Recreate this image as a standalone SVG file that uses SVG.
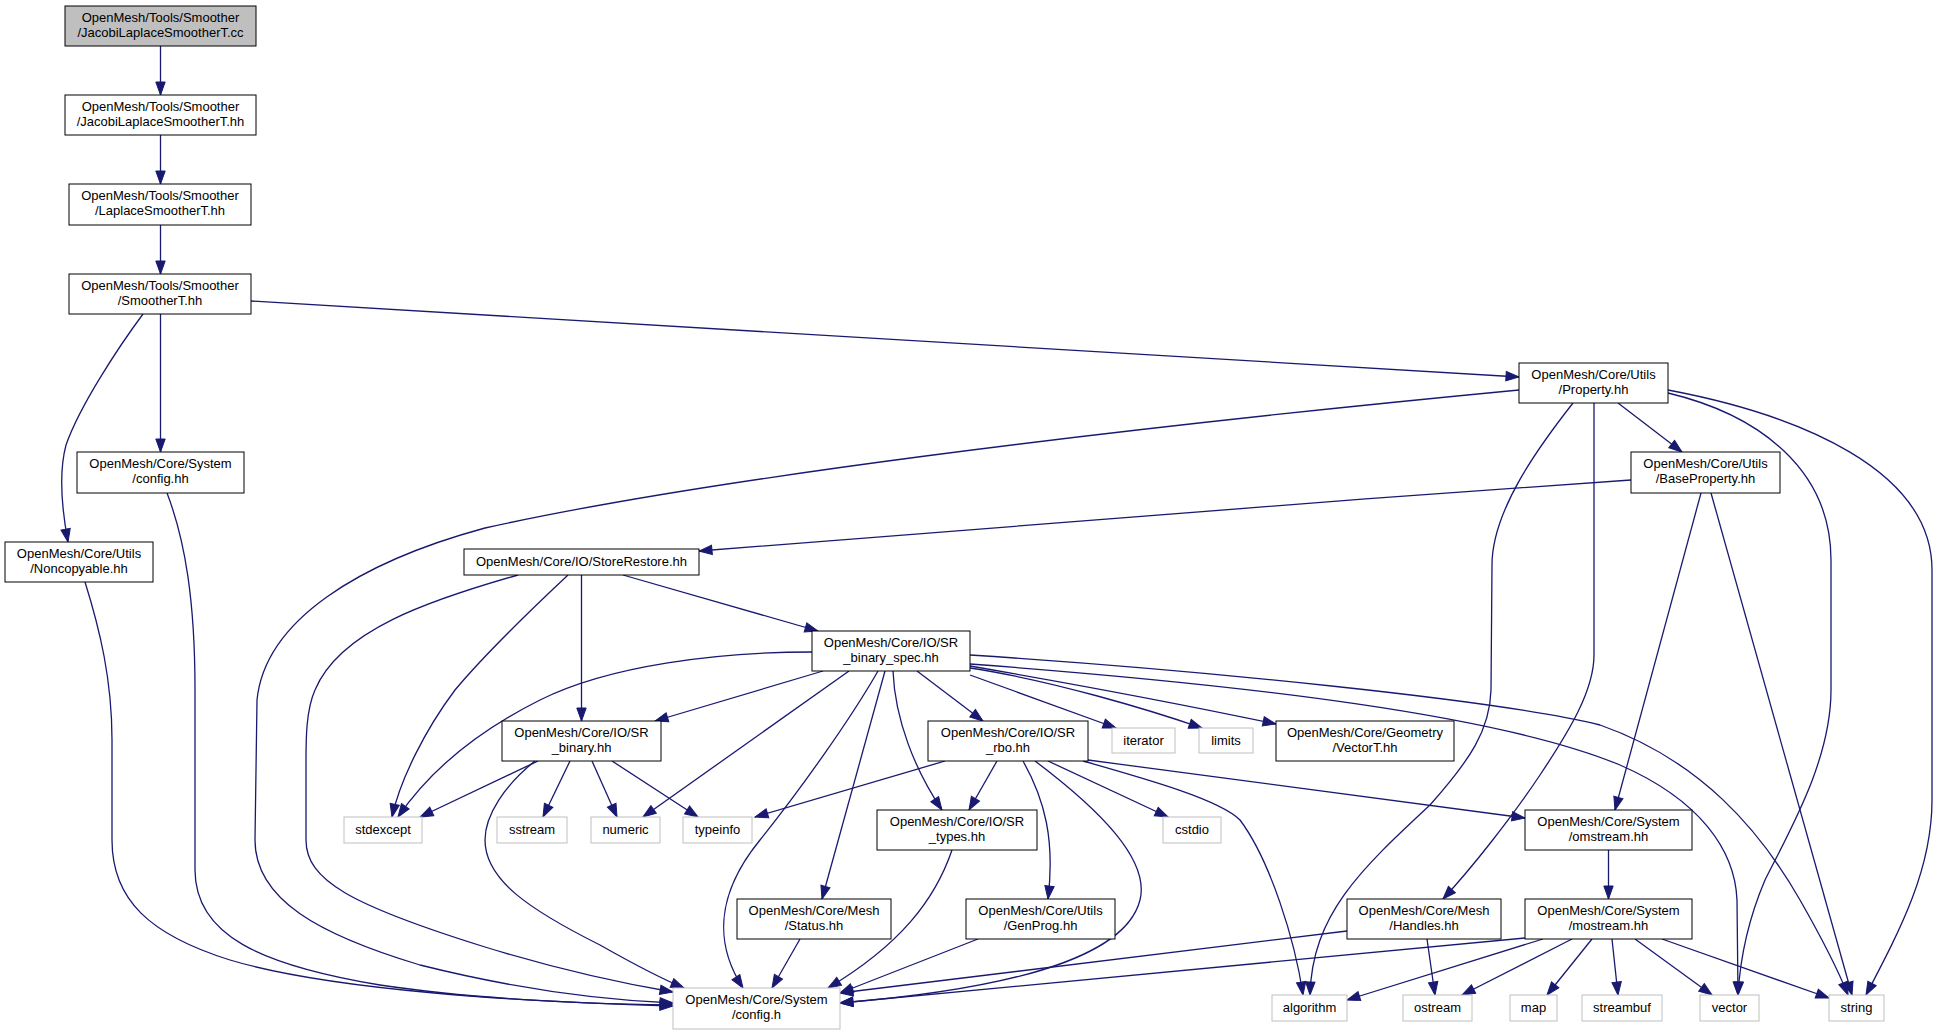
<svg xmlns="http://www.w3.org/2000/svg" width="1938" height="1035" viewBox="0 0 1938 1035">
<style>
.n rect{fill:#fff;stroke:#000;stroke-width:1}
.root rect{fill:#bfbfbf}
.ext rect{stroke:#bfbfbf}
text{font-family:"Liberation Sans",Arial,Helvetica,sans-serif;font-size:13px;text-anchor:middle;fill:#000}
#edges path{fill:none;stroke:#191970;stroke-width:1.3;marker-end:url(#arr)}
</style>
<defs>
<marker id="arr" markerWidth="14" markerHeight="10" refX="13" refY="4.7" orient="auto" markerUnits="userSpaceOnUse" overflow="visible">
<path d="M0,0 L13,4.7 L0,9.4 z" fill="#191970" stroke="#191970" stroke-width="1"/>
</marker>
</defs>
<rect width="1938" height="1035" fill="#fff"/>
<g id="edges">
<path d="M160.5,46 L160.5,95"/>
<path d="M160.5,135 L160.5,184"/>
<path d="M160.5,225 L160.5,274"/>
<path d="M251,301 L1519,377"/>
<path d="M160.5,314 L160.5,452"/>
<path d="M143,314 C120,345 80,405 66,445 C58,475 62,510 68,542"/>
<path d="M85,582 C100,630 112,680 112,740 L112,840 C112,900 150,935 230,960 C330,990 520,1002 673,1006"/>
<path d="M167,493 C185,540 195,600 195,690 L195,870 C195,935 260,965 380,985 C480,1000 600,1004 673,1005"/>
<path d="M1519,390 C1100,430 700,480 485,528 C360,562 265,620 257,700 L255,840 C255,900 320,935 420,965 C520,990 600,1000 673,1003"/>
<path d="M1573,403 C1540,445 1492,510 1492,565 L1491,690 C1490,730 1470,760 1430,805 C1360,870 1312,915 1310,995"/>
<path d="M1594,403 L1594,655 C1594,690 1570,730 1540,775 C1510,820 1470,870 1443,899"/>
<path d="M1618,403 L1682,452"/>
<path d="M1668,393 C1760,415 1831,470 1831,560 L1831,690 C1831,760 1790,830 1765,880 C1748,920 1740,960 1738,995"/>
<path d="M1668,390 C1800,415 1932,470 1932,570 L1932,800 C1932,870 1900,930 1866,995"/>
<path d="M1631,480 C1300,503 900,533 699,551"/>
<path d="M1701,493 L1615,810"/>
<path d="M1711,493 L1852,995"/>
<path d="M568,575 C520,620 480,660 455,690 C425,730 400,780 392,817"/>
<path d="M581.5,575 L581.5,721"/>
<path d="M623,575 L818,631"/>
<path d="M518,575 C430,600 340,630 315,690 C306,710 306,740 306,760 L306,840 C306,880 350,905 485,947 C560,970 620,983 673,992"/>
<path d="M812,652 C720,652 610,665 540,700 C480,730 430,770 398,817"/>
<path d="M823,671 L655,721"/>
<path d="M849,671 L643,817"/>
<path d="M878,671 C850,720 800,790 760,840 C715,895 715,945 743,988"/>
<path d="M885,671 L822,899"/>
<path d="M893,671 C895,720 915,770 942,810"/>
<path d="M917,671 L983,721"/>
<path d="M970,675 L1116,728"/>
<path d="M970,668 C1050,680 1150,710 1202,728"/>
<path d="M970,666 C1080,685 1200,708 1276,724"/>
<path d="M970,664 C1250,685 1500,715 1620,765 C1700,800 1735,850 1737,900 L1738,995"/>
<path d="M970,655 C1200,670 1500,700 1600,725 C1700,760 1760,830 1800,900 C1820,935 1838,970 1848,995"/>
<path d="M538,761 L420,817"/>
<path d="M535,761 C505,785 485,815 485,840 C485,880 530,910 600,945 C630,962 660,978 684,988"/>
<path d="M570,761 L543,817"/>
<path d="M592,761 L617,817"/>
<path d="M612,761 L698,817"/>
<path d="M945,761 L755,817"/>
<path d="M997,761 L969,810"/>
<path d="M1023,761 C1045,800 1055,840 1048,899"/>
<path d="M1035,761 C1100,810 1150,860 1140,900 C1125,960 1000,990 840,1003"/>
<path d="M1048,761 L1168,817"/>
<path d="M1083,761 C1150,780 1220,800 1240,820 C1270,860 1295,940 1303,995"/>
<path d="M1088,760 L1525,818"/>
<path d="M952,850 C935,900 900,945 828,988"/>
<path d="M800,939 L772,988"/>
<path d="M978,939 L840,993"/>
<path d="M1347,931 L840,993"/>
<path d="M1427,939 L1435,995"/>
<path d="M1608.5,850 L1608.5,899"/>
<path d="M1525,938 L840,1003"/>
<path d="M1543,939 L1347,1000"/>
<path d="M1572,939 L1462,995"/>
<path d="M1592,939 L1547,995"/>
<path d="M1612,939 L1618,995"/>
<path d="M1635,939 L1712,995"/>
<path d="M1662,939 L1829,998"/>
</g>
<g id="node1" class="n root"><rect x="65" y="6" width="191" height="40"/><text x="160.5" y="22">OpenMesh/Tools/Smoother</text><text x="160.5" y="37">/JacobiLaplaceSmootherT.cc</text></g>
<g id="node2" class="n"><rect x="65" y="95" width="191" height="40"/><text x="160.5" y="111">OpenMesh/Tools/Smoother</text><text x="160.5" y="126">/JacobiLaplaceSmootherT.hh</text></g>
<g id="node3" class="n"><rect x="69" y="184" width="182" height="41"/><text x="160" y="200">OpenMesh/Tools/Smoother</text><text x="160" y="215">/LaplaceSmootherT.hh</text></g>
<g id="node4" class="n"><rect x="69" y="274" width="182" height="40"/><text x="160" y="290">OpenMesh/Tools/Smoother</text><text x="160" y="305">/SmootherT.hh</text></g>
<g id="node5" class="n"><rect x="77" y="452" width="167" height="41"/><text x="160.5" y="468">OpenMesh/Core/System</text><text x="160.5" y="483">/config.hh</text></g>
<g id="node6" class="n"><rect x="5" y="542" width="148" height="40"/><text x="79" y="558">OpenMesh/Core/Utils</text><text x="79" y="573">/Noncopyable.hh</text></g>
<g id="node7" class="n"><rect x="1519" y="363" width="149" height="40"/><text x="1593.5" y="379">OpenMesh/Core/Utils</text><text x="1593.5" y="394">/Property.hh</text></g>
<g id="node8" class="n"><rect x="1631" y="452" width="149" height="41"/><text x="1705.5" y="468">OpenMesh/Core/Utils</text><text x="1705.5" y="483">/BaseProperty.hh</text></g>
<g id="node9" class="n"><rect x="464" y="549" width="235" height="26"/><text x="581.5" y="566">OpenMesh/Core/IO/StoreRestore.hh</text></g>
<g id="node10" class="n"><rect x="812" y="631" width="158" height="40"/><text x="891" y="647">OpenMesh/Core/IO/SR</text><text x="891" y="662">_binary_spec.hh</text></g>
<g id="node11" class="n"><rect x="502" y="721" width="159" height="40"/><text x="581.5" y="737">OpenMesh/Core/IO/SR</text><text x="581.5" y="752">_binary.hh</text></g>
<g id="node12" class="n"><rect x="928" y="721" width="160" height="40"/><text x="1008" y="737">OpenMesh/Core/IO/SR</text><text x="1008" y="752">_rbo.hh</text></g>
<g id="node13" class="n ext"><rect x="1112" y="728" width="63" height="25"/><text x="1143.5" y="745">iterator</text></g>
<g id="node14" class="n ext"><rect x="1199" y="728" width="54" height="25"/><text x="1226" y="745">limits</text></g>
<g id="node15" class="n"><rect x="1276" y="721" width="178" height="40"/><text x="1365" y="737">OpenMesh/Core/Geometry</text><text x="1365" y="752">/VectorT.hh</text></g>
<g id="node16" class="n ext"><rect x="344" y="817" width="78" height="26"/><text x="383" y="834">stdexcept</text></g>
<g id="node17" class="n ext"><rect x="497" y="817" width="70" height="26"/><text x="532" y="834">sstream</text></g>
<g id="node18" class="n ext"><rect x="591" y="817" width="69" height="26"/><text x="625.5" y="834">numeric</text></g>
<g id="node19" class="n ext"><rect x="683" y="817" width="69" height="26"/><text x="717.5" y="834">typeinfo</text></g>
<g id="node20" class="n"><rect x="877" y="810" width="160" height="40"/><text x="957" y="826">OpenMesh/Core/IO/SR</text><text x="957" y="841">_types.hh</text></g>
<g id="node21" class="n ext"><rect x="1163" y="817" width="58" height="26"/><text x="1192" y="834">cstdio</text></g>
<g id="node22" class="n"><rect x="1525" y="810" width="167" height="40"/><text x="1608.5" y="826">OpenMesh/Core/System</text><text x="1608.5" y="841">/omstream.hh</text></g>
<g id="node23" class="n"><rect x="737" y="899" width="154" height="40"/><text x="814" y="915">OpenMesh/Core/Mesh</text><text x="814" y="930">/Status.hh</text></g>
<g id="node24" class="n"><rect x="966" y="899" width="149" height="40"/><text x="1040.5" y="915">OpenMesh/Core/Utils</text><text x="1040.5" y="930">/GenProg.hh</text></g>
<g id="node25" class="n"><rect x="1347" y="899" width="154" height="40"/><text x="1424" y="915">OpenMesh/Core/Mesh</text><text x="1424" y="930">/Handles.hh</text></g>
<g id="node26" class="n"><rect x="1525" y="899" width="167" height="40"/><text x="1608.5" y="915">OpenMesh/Core/System</text><text x="1608.5" y="930">/mostream.hh</text></g>
<g id="node27" class="n ext"><rect x="673" y="988" width="167" height="41"/><text x="756.5" y="1004">OpenMesh/Core/System</text><text x="756.5" y="1019">/config.h</text></g>
<g id="node28" class="n ext"><rect x="1272" y="995" width="75" height="26"/><text x="1309.5" y="1012">algorithm</text></g>
<g id="node29" class="n ext"><rect x="1403" y="995" width="69" height="26"/><text x="1437.5" y="1012">ostream</text></g>
<g id="node30" class="n ext"><rect x="1510" y="995" width="47" height="26"/><text x="1533.5" y="1012">map</text></g>
<g id="node31" class="n ext"><rect x="1582" y="995" width="80" height="26"/><text x="1622" y="1012">streambuf</text></g>
<g id="node32" class="n ext"><rect x="1700" y="995" width="59" height="26"/><text x="1729.5" y="1012">vector</text></g>
<g id="node33" class="n ext"><rect x="1829" y="995" width="55" height="26"/><text x="1856.5" y="1012">string</text></g>
</svg>
